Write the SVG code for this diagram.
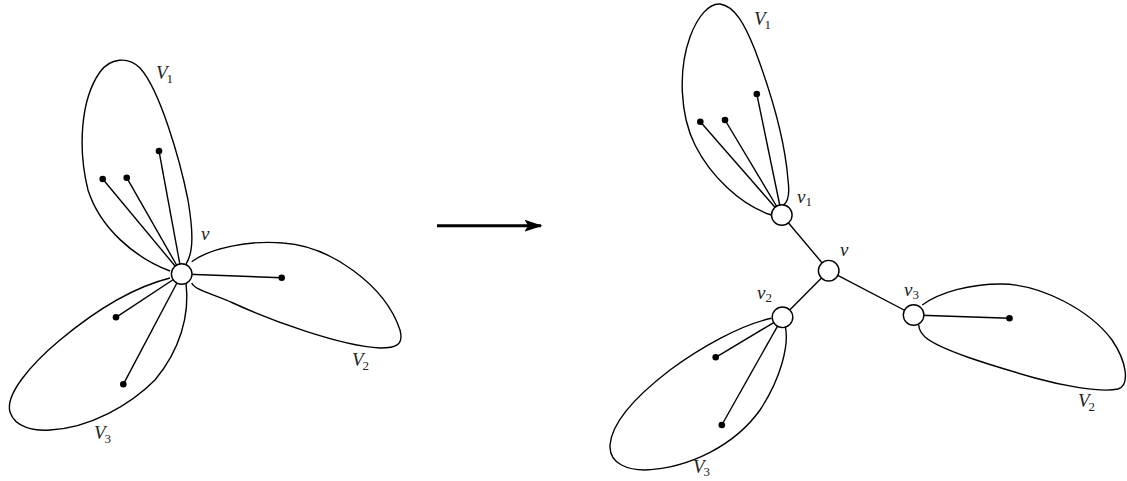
<svg xmlns="http://www.w3.org/2000/svg" width="1127" height="481" viewBox="0 0 1127 481">
<defs>
<style>
.lobe{fill:none;stroke:#000;stroke-width:1.4}
.edge{stroke:#000;stroke-width:1.4;fill:none}
.node{fill:#fff;stroke:#000;stroke-width:1.4}
.dot{fill:#000}
.lbl{font-family:"Liberation Serif",serif;font-style:italic;font-size:19px;fill:#222}
.sub{font-family:"Liberation Serif",serif;font-style:normal;font-size:13px}
</style>
<marker id="ah" markerWidth="6" markerHeight="4" refX="5.5" refY="2" orient="auto" markerUnits="strokeWidth">
<path d="M0,0 L6,2 L0,4 L1.2,2 Z" fill="#000"/>
</marker>
</defs>
<rect width="1127" height="481" fill="#fff"/>

<g id="left-lobes">
<path class="lobe" d="M170,271 C135,258 100,228 88,190 C78,150 80,100 100,72 C110,58 128,56 140,68 C160,90 180,160 188,200 C193,230 194,252 186,264"/>
<path class="lobe" d="M191.7,261.7 C210,248 250,240 283,243 C330,246 385,285 400,330 C404,345 396,348 380,348 C340,346 270,320 233,303 C210,293 195,290 191.7,283"/>
<path class="lobe" d="M170,278 C130,288 90,315 60,340 C30,365 5,395 10,412 C15,428 35,431 50,430 C90,428 130,405 155,380 C180,350 190,315 186,283"/>
</g>

<g id="connectors">
<line class="edge" x1="181.7" y1="274" x2="159" y2="151"/>
<line class="edge" x1="181.7" y1="274" x2="102.7" y2="179"/>
<line class="edge" x1="181.7" y1="274" x2="126.7" y2="177.7"/>
<line class="edge" x1="181.7" y1="274" x2="281.7" y2="277.7"/>
<line class="edge" x1="181.7" y1="274" x2="116" y2="317.3"/>
<line class="edge" x1="181.7" y1="274" x2="123.3" y2="384.3"/>
<line class="edge" x1="781.8" y1="215" x2="756.8" y2="94"/>
<line class="edge" x1="781.8" y1="215" x2="700.3" y2="121.7"/>
<line class="edge" x1="781.8" y1="215" x2="725" y2="120"/>
<line class="edge" x1="913.6" y1="315" x2="1009.5" y2="318.3"/>
<line class="edge" x1="782.5" y1="317.3" x2="715.7" y2="357.3"/>
<line class="edge" x1="782.5" y1="317.3" x2="721.8" y2="425"/>
<line class="edge" x1="828.7" y1="270.7" x2="781.8" y2="215"/>
<line class="edge" x1="828.7" y1="270.7" x2="782.5" y2="317.3"/>
<line class="edge" x1="828.7" y1="270.7" x2="913.6" y2="315"/>
<line stroke="#000" stroke-width="3" x1="437" y1="225.7" x2="541" y2="225.7" marker-end="url(#ah)"/>
</g>

<g id="right-lobes">
<path class="lobe" d="M771.5,215 C740,205 710,175 695,145 C680,115 678,70 690,37 C698,15 710,3 720,4 C735,6 745,25 755,50 C770,90 785,140 788,180 C790,195 788,202 783.5,205"/>
<path class="lobe" d="M922.2,305 C940,292 970,284 1001,284 C1040,284 1090,310 1112,340 C1127,362 1130,385 1118,389 C1100,393 1060,385 1035,378 C990,365 940,350 925,337 C920,332 918.8,328 918.8,325"/>
<path class="lobe" d="M771.5,318.3 C740,325 700,348 670,370 C640,393 612,420 610,445 C609,465 630,470 645,470 C690,468 735,445 760,410 C780,380 790,345 785,325"/>
</g>

<g id="dots">
<circle class="dot" cx="159" cy="151" r="3.3"/>
<circle class="dot" cx="102.7" cy="179" r="3.3"/>
<circle class="dot" cx="126.7" cy="177.7" r="3.3"/>
<circle class="dot" cx="281.7" cy="277.7" r="3.3"/>
<circle class="dot" cx="116" cy="317.3" r="3.3"/>
<circle class="dot" cx="123.3" cy="384.3" r="3.3"/>
<circle class="dot" cx="756.8" cy="94" r="3.3"/>
<circle class="dot" cx="700.3" cy="121.7" r="3.3"/>
<circle class="dot" cx="725" cy="120" r="3.3"/>
<circle class="dot" cx="1009.5" cy="318.3" r="3.3"/>
<circle class="dot" cx="715.7" cy="357.3" r="3.3"/>
<circle class="dot" cx="721.8" cy="425" r="3.3"/>
</g>

<g id="node-v-left"><circle class="node" cx="181.7" cy="274" r="10.3"/><text class="lbl" x="201" y="240">v</text></g>
<g id="node-v1"><circle class="node" cx="781.8" cy="215" r="10.3"/><text class="lbl" x="797" y="203">v<tspan class="sub" dy="3">1</tspan></text></g>
<g id="node-v"><circle class="node" cx="828.7" cy="270.7" r="10.3"/><text class="lbl" x="840" y="256">v</text></g>
<g id="node-v2"><circle class="node" cx="782.5" cy="317.3" r="10.3"/><text class="lbl" x="757" y="299">v<tspan class="sub" dy="3">2</tspan></text></g>
<g id="node-v3"><circle class="node" cx="913.6" cy="315" r="10.3"/><text class="lbl" x="904" y="296">v<tspan class="sub" dy="3">3</tspan></text></g>

<g id="labels">
<text class="lbl" x="156" y="79">V<tspan class="sub" dx="-1" dy="4">1</tspan></text>
<text class="lbl" x="352" y="366">V<tspan class="sub" dx="-1" dy="4">2</tspan></text>
<text class="lbl" x="94" y="439">V<tspan class="sub" dx="-1" dy="4">3</tspan></text>
<text class="lbl" x="754" y="25">V<tspan class="sub" dx="-1" dy="4">1</tspan></text>
<text class="lbl" x="1078" y="407">V<tspan class="sub" dx="-1" dy="4">2</tspan></text>
<text class="lbl" x="693" y="473">V<tspan class="sub" dx="-1" dy="3">3</tspan></text>
</g>
</svg>
